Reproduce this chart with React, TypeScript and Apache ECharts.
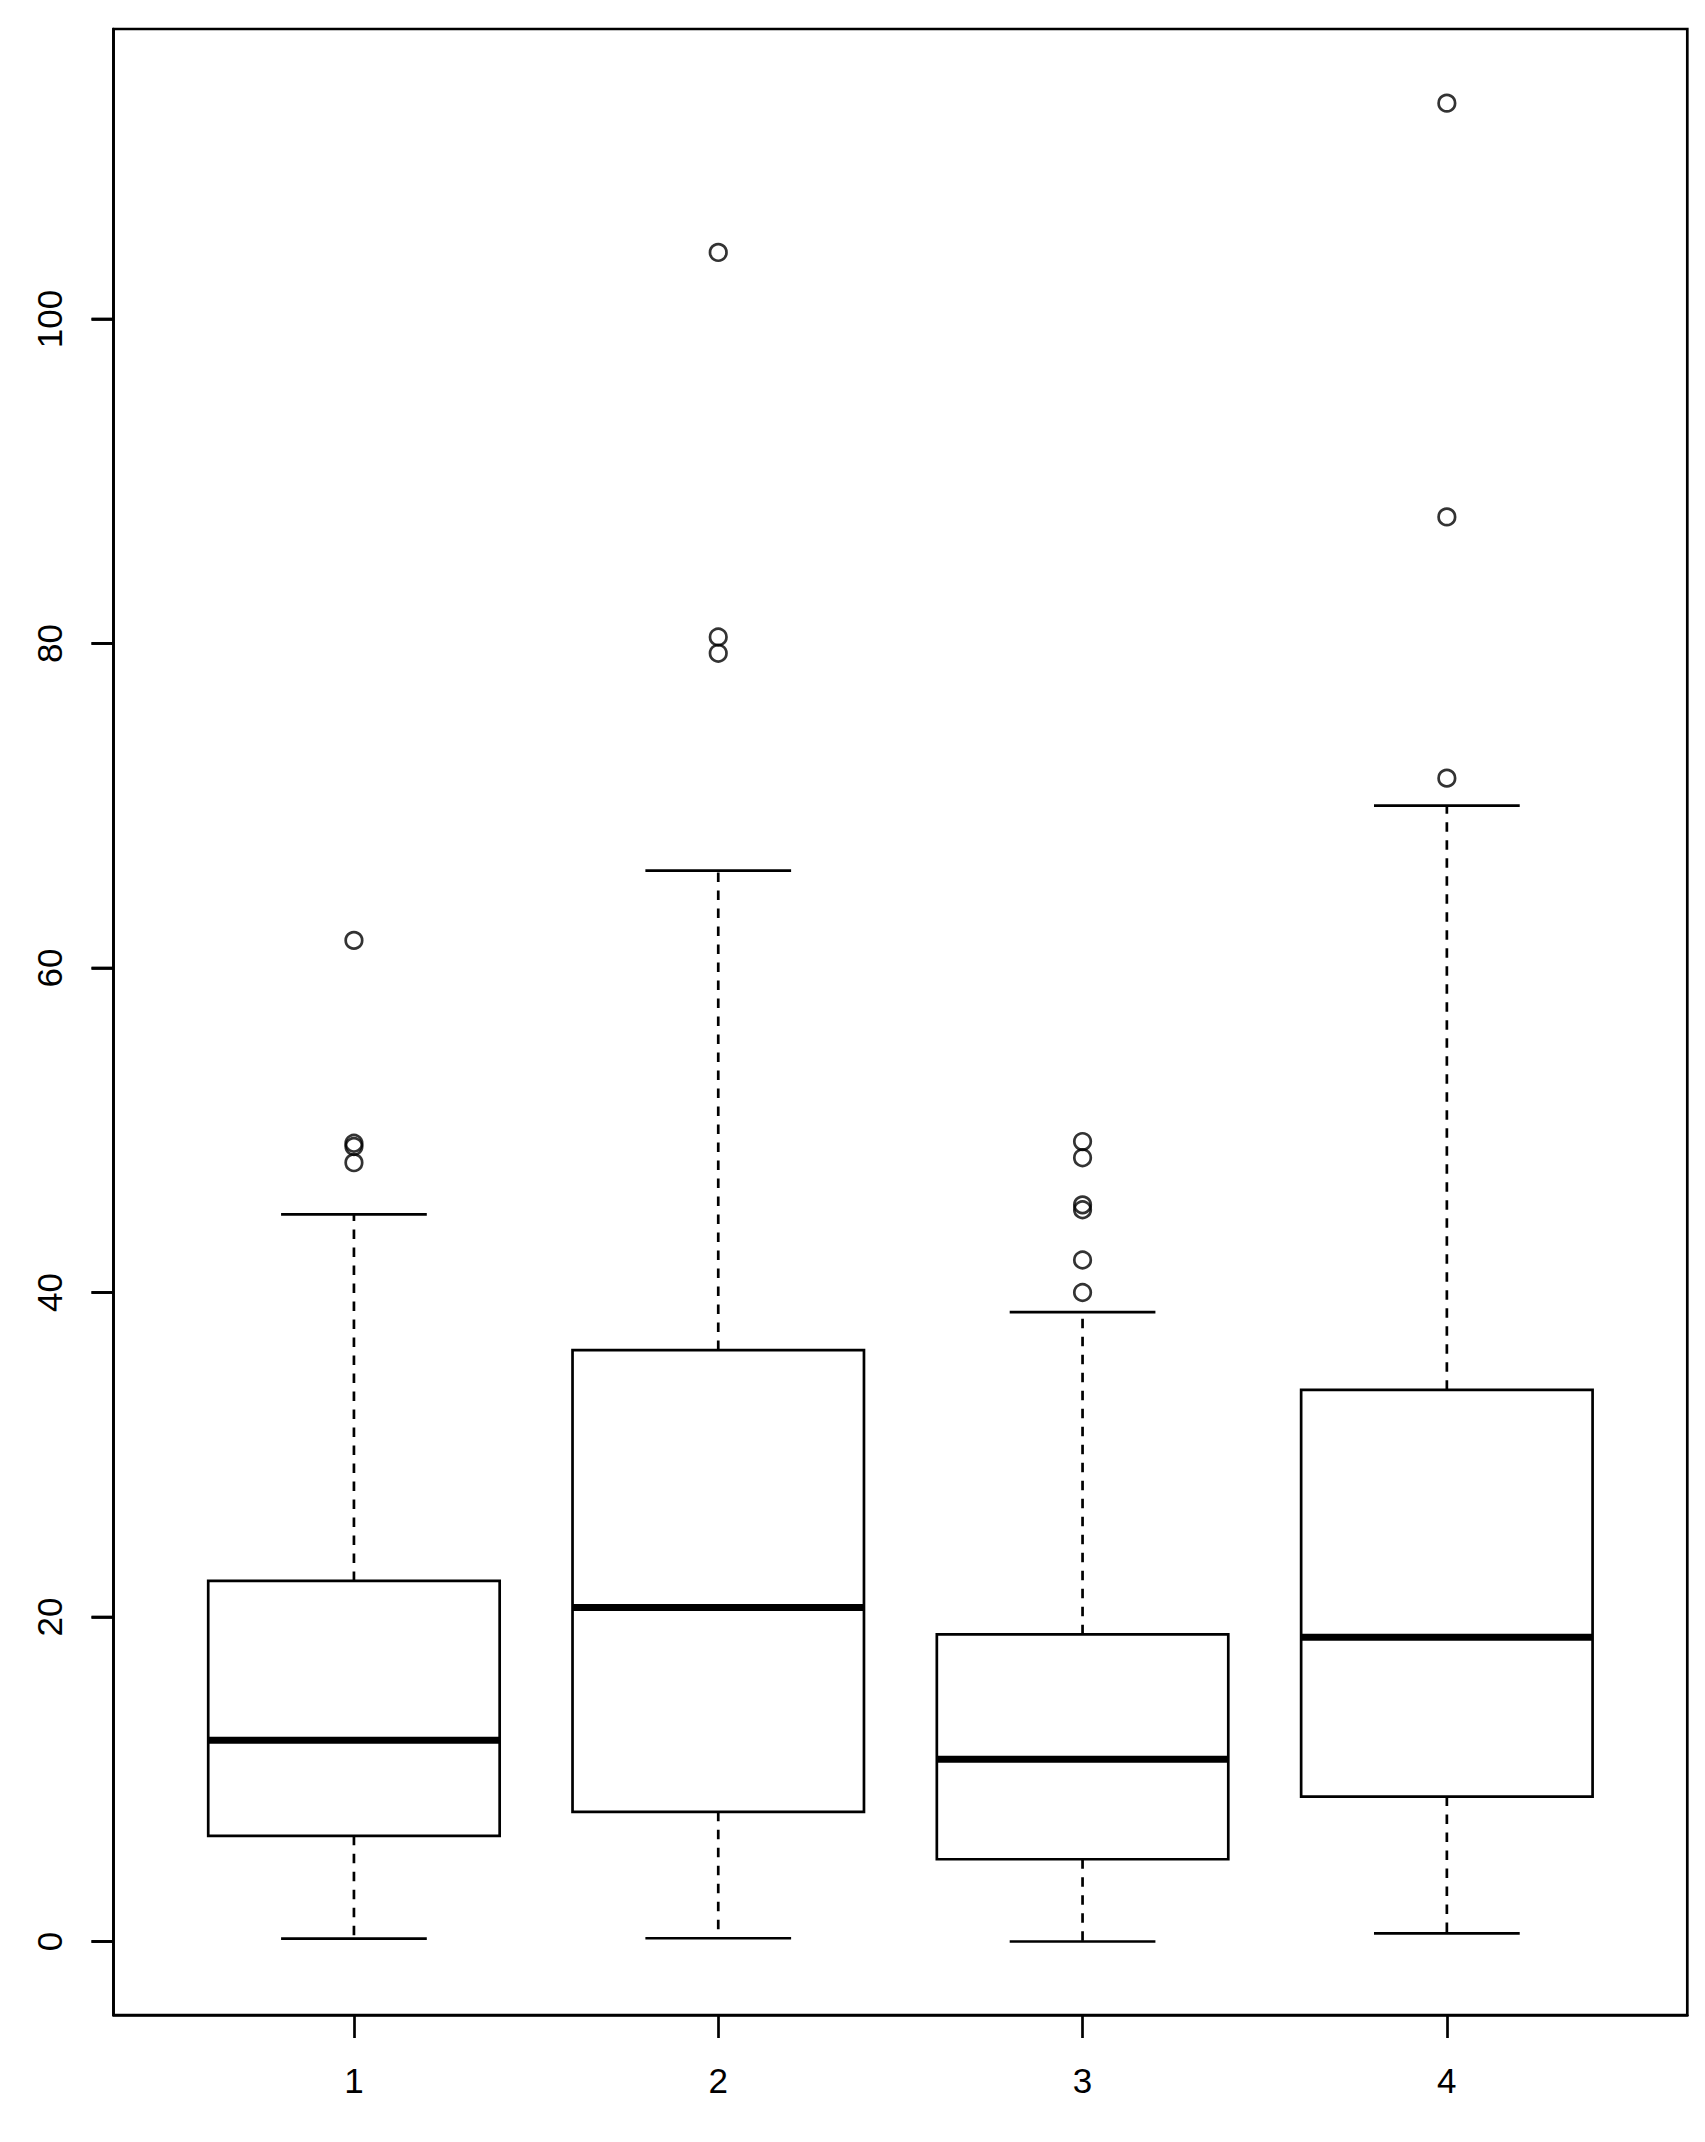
import React, { useEffect, useRef } from 'react';
import * as echarts from 'echarts';

// ---- data ----
const groups = [1, 2, 3, 4];
const xTickLabels = ['1', '2', '3', '4'];
const lowerWhisker = [0.18, 0.2, 0.0, 0.5];
const q1 = [6.51, 7.99, 5.07, 8.93];
const medians = [12.4, 20.58, 11.23, 18.75];
const q3 = [22.22, 36.45, 18.93, 34.0];
const upperWhisker = [44.81, 66.0, 38.79, 70.0];
const outliers1 = [61.7, 49.2, 49.0, 48.0];
const outliers2 = [104.1, 80.4, 79.4];
const outliers3 = [49.3, 48.3, 45.4, 45.1, 42.0, 40.0];
const outliers4 = [113.3, 87.8, 71.7];
const yTicks = [0, 20, 40, 60, 80, 100];
const yMin = -4.53;
const yMax = 117.87;
const xMin = 0.34;
const xMax = 4.66;

const LW = 2.7;
const TICK_LEN = 22;
const FONT = "'Liberation Sans', Arial, sans-serif";

export default function App() {
  const ref = useRef<HTMLDivElement>(null);

  useEffect(() => {
    if (!ref.current) return;
    const chart = echarts.init(ref.current, undefined, { renderer: 'svg' });

    const boxData = groups.map((g, i) => [g, lowerWhisker[i], q1[i], medians[i], q3[i], upperWhisker[i]]);
    const outlierSets = [outliers1, outliers2, outliers3, outliers4];
    const outlierData: number[][] = [];
    outlierSets.forEach((arr, i) => arr.forEach((v) => outlierData.push([groups[i], v])));
    const yTickData = yTicks.map((v) => [xMin, v]);

    const renderItem = (params: any, api: any) => {
      const x = api.value(0);
      const lo = api.coord([x, api.value(1)]);
      const b1 = api.coord([x, api.value(2)]);
      const md = api.coord([x, api.value(3)]);
      const b3 = api.coord([x, api.value(4)]);
      const hi = api.coord([x, api.value(5)]);
      const halfBox = api.size([0.4, 0])[0];
      const halfStaple = api.size([0.2, 0])[0];
      const cx = lo[0];
      const solid = { stroke: '#000', lineWidth: LW, fill: null };
      const dashed = { stroke: '#000', lineWidth: LW, lineDash: [9.5, 8.5], fill: null };
      return {
        type: 'group',
        children: [
          { type: 'line', shape: { x1: cx, y1: b3[1], x2: cx, y2: hi[1] }, style: dashed },
          { type: 'line', shape: { x1: cx, y1: b1[1], x2: cx, y2: lo[1] }, style: dashed },
          { type: 'line', shape: { x1: cx - halfStaple, y1: hi[1], x2: cx + halfStaple, y2: hi[1] }, style: solid },
          { type: 'line', shape: { x1: cx - halfStaple, y1: lo[1], x2: cx + halfStaple, y2: lo[1] }, style: solid },
          {
            type: 'rect',
            shape: { x: cx - halfBox, y: b3[1], width: halfBox * 2, height: b1[1] - b3[1] },
            style: { stroke: '#000', lineWidth: LW, fill: '#fff' },
          },
          {
            type: 'line',
            shape: { x1: cx - halfBox, y1: md[1], x2: cx + halfBox, y2: md[1] },
            style: { stroke: '#000', lineWidth: 7, fill: null },
          },
        ],
      };
    };

    // y-axis tick marks, placed through the axis scale at each tick value
    const renderYTick = (params: any, api: any) => {
      const p = api.coord([api.value(0), api.value(1)]);
      return {
        type: 'line',
        shape: { x1: p[0] - TICK_LEN, y1: p[1], x2: p[0], y2: p[1] },
        style: { stroke: '#000', lineWidth: LW, fill: null },
      };
    };

    chart.setOption({
      animation: false,
      grid: {
        left: 113.5,
        right: 17.7,
        top: 29,
        bottom: 127,
        show: true,
        borderColor: '#000',
        borderWidth: LW,
      },
      xAxis: {
        type: 'value',
        min: xMin,
        max: xMax,
        axisLine: { show: true, onZero: false, lineStyle: { color: '#000', width: LW } },
        splitLine: { show: false },
        axisTick: {
          show: true,
          length: 23,
          customValues: groups,
          lineStyle: { color: '#000', width: LW },
        },
        axisLabel: {
          customValues: groups,
          margin: 48,
          color: '#000',
          fontSize: 35,
          fontFamily: FONT,
          formatter: (v: number) => xTickLabels[groups.indexOf(Math.round(v))] ?? '',
        },
      },
      yAxis: {
        type: 'value',
        min: yMin,
        max: yMax,
        axisLine: { show: true, onZero: false, lineStyle: { color: '#000', width: LW } },
        splitLine: { show: false },
        axisTick: {
          show: true,
          length: TICK_LEN,
          customValues: yTicks,
          lineStyle: { color: '#000', width: LW },
        },
        axisLabel: {
          customValues: yTicks,
          rotate: 90,
          margin: 47,
          color: '#000',
          fontSize: 35,
          fontFamily: FONT,
          formatter: (v: number) => String(Math.round(v)),
        },
      },
      series: [
        {
          type: 'custom',
          renderItem,
          data: boxData,
          encode: { x: 0, y: [1, 2, 3, 4, 5] },
          z: 2,
        },
        {
          type: 'scatter',
          data: outlierData,
          symbol: 'circle',
          symbolSize: 16.5,
          itemStyle: { color: 'transparent', borderColor: '#000', borderWidth: 2.7 },
          z: 3,
        },
        {
          type: 'custom',
          renderItem: renderYTick,
          data: yTickData,
          encode: { x: 0, y: 1 },
          clip: false,
          silent: true,
          z: 4,
        },
      ],
    });

    return () => chart.dispose();
  }, []);

  return (
    <div
      ref={ref}
      style={{ position: 'absolute', left: 0, top: 0, width: 1705, height: 2142, background: '#fff' }}
    />
  );
}
